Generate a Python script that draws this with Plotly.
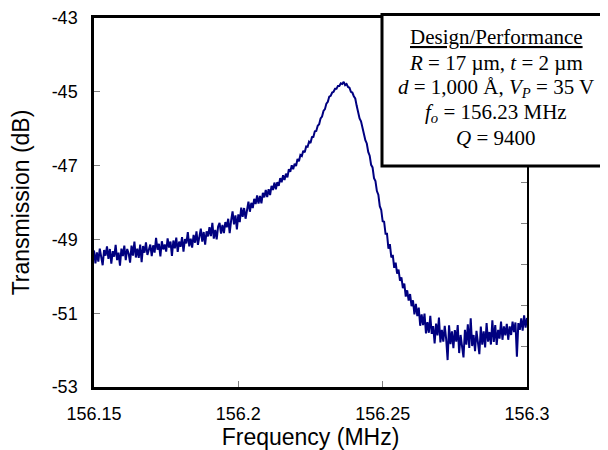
import numpy as np
import plotly.graph_objects as go

# Frequency grid (MHz): 301 samples from 156.15 to 156.30
freq_start = 156.15
freq_stop = 156.30
n_points = 301

transmission = [
    -49.30, -49.65, -49.35, -49.60, -49.25, -49.50, -49.70, -49.29, -49.44, -49.19,
    -49.53, -49.26, -49.66, -49.32, -49.47, -49.15, -49.56, -49.36, -49.71, -49.25,
    -49.45, -49.17, -49.56, -49.26, -49.38, -49.63, -49.17, -49.44, -49.06, -49.49,
    -49.25, -49.50, -49.14, -49.62, -49.18, -49.36, -49.08, -49.42, -49.26, -49.14,
    -49.45, -49.16, -49.36, -48.96, -49.28, -49.12, -49.46, -49.05, -49.27, -49.14,
    -49.33, -48.97, -49.22, -49.06, -49.45, -49.03, -49.24, -48.95, -49.34, -49.06,
    -49.20, -48.94, -49.33, -48.99, -49.11, -48.80, -49.19, -48.98, -49.22, -48.88,
    -49.09, -48.78, -49.15, -48.89, -48.71, -49.06, -48.80, -49.14, -48.78, -48.92,
    -48.67, -48.91, -48.55, -48.98, -48.74, -49.00, -48.65, -48.55, -48.84, -48.61,
    -48.83, -48.53, -48.67, -48.44, -48.83, -48.49, -48.24, -48.59, -48.35, -48.73,
    -48.32, -48.53, -48.14, -48.39, -48.15, -48.44, -48.15, -47.98, -48.25, -48.01,
    -48.15, -47.90, -48.04, -47.81, -48.03, -47.82, -48.02, -47.74, -47.86, -47.66,
    -47.85, -47.64, -47.80, -47.55, -47.66, -47.46, -47.64, -47.45, -47.55, -47.34,
    -47.45, -47.26, -47.39, -47.22, -47.32, -47.10, -47.17, -46.99, -47.10, -46.95,
    -47.01, -46.82, -46.88, -46.71, -46.74, -46.60, -46.64, -46.48, -46.49, -46.35,
    -46.39, -46.23, -46.22, -46.07, -46.06, -45.92, -45.88, -45.72, -45.67, -45.52,
    -45.47, -45.32, -45.27, -45.13, -45.11, -45.02, -45.00, -44.92, -44.92, -44.84,
    -44.84, -44.77, -44.79, -44.73, -44.82, -44.79, -44.87, -44.89, -45.00, -45.02,
    -45.12, -45.18, -45.38, -45.55, -45.72, -45.80, -45.98, -46.08, -46.31, -46.40,
    -46.63, -46.73, -46.98, -47.05, -47.34, -47.42, -47.69, -47.79, -48.10, -48.20,
    -48.51, -48.52, -48.85, -48.85, -49.25, -49.13, -49.49, -49.42, -49.77, -49.63,
    -49.93, -49.82, -50.12, -50.03, -50.32, -50.20, -50.55, -50.38, -50.66, -50.48,
    -50.81, -50.65, -51.03, -50.75, -51.08, -50.85, -51.34, -51.03, -51.32, -51.01,
    -51.55, -51.24, -51.53, -51.07, -51.56, -51.35, -51.82, -51.28, -51.60, -51.12,
    -51.79, -51.45, -51.77, -51.34, -51.70, -52.27, -51.33, -51.84, -51.49, -51.95,
    -51.46, -51.77, -51.32, -52.08, -51.59, -51.90, -52.20, -51.45, -51.85, -51.30,
    -51.94, -51.14, -51.89, -51.59, -52.03, -51.48, -51.77, -52.11, -51.36, -51.85,
    -51.49, -51.93, -51.27, -51.77, -51.51, -51.85, -51.19, -51.78, -51.32, -51.86,
    -51.45, -51.69, -51.23, -51.72, -51.36, -51.60, -51.29, -51.72, -51.36, -51.59,
    -51.23, -51.51, -51.25, -52.18, -51.27, -51.45, -51.14, -51.47, -51.06, -51.39,
    -51.13,
]

frequency = np.linspace(freq_start, freq_stop, n_points)

x_tick_vals = [156.15, 156.2, 156.25, 156.3]
x_tick_text = ["156.15", "156.2", "156.25", "156.3"]
y_tick_vals = [-53, -51, -49, -47, -45, -43]
y_tick_text = ["-53", "-51", "-49", "-47", "-45", "-43"]

box_lines = [
    "<u>Design/Performance</u>",
    "<i>R</i> = 17 \u00b5m, <i>t</i> = 2 \u00b5m",
    "<i>d</i> = 1,000 \u00c5, <i>V<sub>P</sub></i> = 35 V",
    "<i>f<sub>o</sub></i> = 156.23 MHz",
    "<i>Q</i> = 9400",
]

# The page body adds an 8 px offset; size the figure so the plot lands in place.
OFF = 8
W, H = 608 - OFF, 450 - OFF
L, R, T, B = 94 - OFF, 81, 18 - OFF, 63
PW, PH = W - L - R, H - T - B


def px(x_img):
    return (x_img - OFF - L) / PW


def py(y_img):
    return (H - B - (y_img - OFF)) / PH


fig = go.Figure()
fig.add_trace(go.Scatter(
    x=frequency, y=transmission, mode="lines",
    line=dict(color="#000080", width=2), showlegend=False,
))
# invisible trace to activate right axis
fig.add_trace(go.Scatter(x=[freq_start], y=[0], yaxis="y2", mode="markers",
                         marker=dict(opacity=0), showlegend=False, hoverinfo="skip"))

fam = "Arial, Liberation Sans, sans-serif"
axis_font = dict(family=fam, size=18, color="black")
title_font = dict(family=fam, size=23, color="black")

fig.update_layout(
    width=W, height=H,
    margin=dict(l=L, r=R, t=T, b=B),
    paper_bgcolor="white", plot_bgcolor="white",
    font=axis_font,
    xaxis=dict(
        range=[freq_start, freq_stop], tickvals=x_tick_vals, ticktext=x_tick_text,
        ticks="inside", ticklen=6, tickcolor="#808080", tickwidth=1,
        showline=True, linecolor="black", linewidth=2.5, mirror=True,
        showgrid=False, zeroline=False, tickfont=axis_font, automargin=False,
        ticklabelstandoff=9,
        title=dict(text="Frequency (MHz)", font=title_font, standoff=3),
    ),
    yaxis=dict(
        range=[-53, -43], tickvals=y_tick_vals, ticktext=y_tick_text,
        ticks="inside", ticklen=6, tickcolor="#808080", tickwidth=1,
        showline=True, linecolor="black", linewidth=2.5,
        showgrid=False, zeroline=False, tickfont=axis_font, automargin=False,
        ticklabelstandoff=10,
        title=dict(text="Transmission (dB)", font=title_font, standoff=16),
    ),
    yaxis2=dict(
        overlaying="y", side="right", range=[0, 9], dtick=1,
        ticks="inside", ticklen=6, tickcolor="#808080", tickwidth=1,
        showticklabels=False, showline=True, linecolor="black", linewidth=2,
        showgrid=False, zeroline=False, automargin=False,
    ),
)

# Text box
fig.add_shape(type="rect", xref="paper", yref="paper",
              x0=px(382), x1=px(606), y0=py(166), y1=py(14.5),
              line=dict(color="black", width=3), fillcolor="white", layer="above")

line_y = [36.7, 63.5, 88.3, 113.3, 137.7]
for txt, yy in zip(box_lines, line_y):
    fig.add_annotation(text=txt, xref="paper", yref="paper", x=px(496), y=py(yy),
                       xanchor="center", yanchor="middle", showarrow=False,
                       font=dict(family="Times New Roman, Liberation Serif, serif", size=21, color="black"))

fig.write_html("out.html")
